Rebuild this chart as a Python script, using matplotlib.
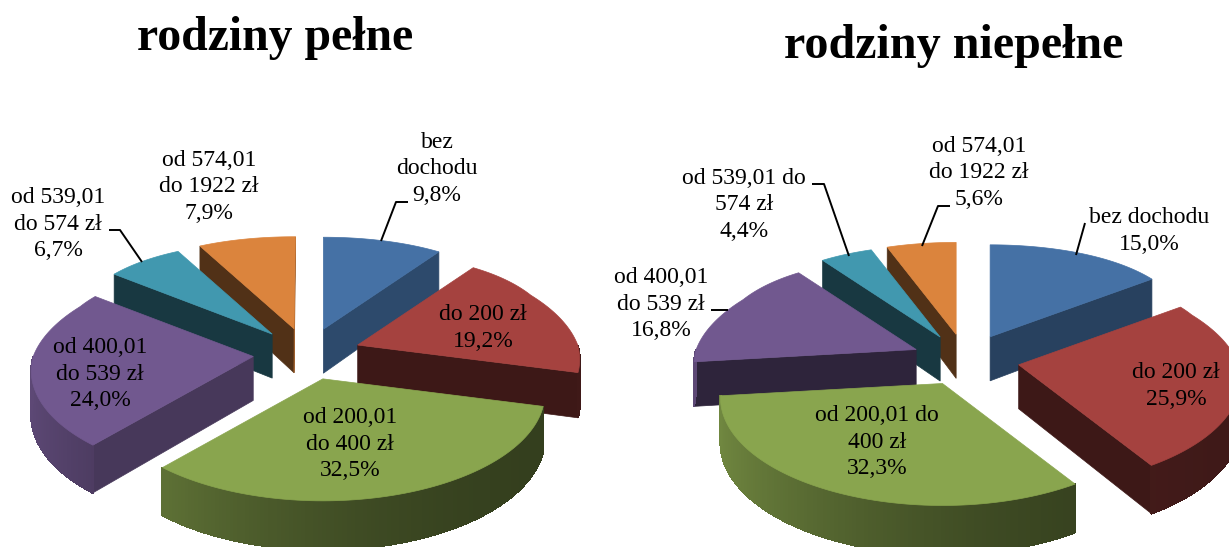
import numpy as np
import matplotlib
matplotlib.use('Agg')
import matplotlib.pyplot as plt
from matplotlib.patches import Polygon
from matplotlib.colors import to_rgb

plt.rcParams['font.family'] = ['Liberation Serif', 'DejaVu Serif']

# values (percent)
values_full = [9.8, 19.2, 32.5, 24.0, 6.7, 7.9]
values_single = [15.0, 25.9, 32.3, 16.8, 4.4, 5.6]

labels_full = ['bez\ndochodu\n9,8%', 'do 200 zł\n19,2%', 'od 200,01\ndo 400 zł\n32,5%',
               'od 400,01\ndo 539 zł\n24,0%', 'od 539,01\ndo 574 zł\n6,7%', 'od 574,01\ndo 1922 zł\n7,9%']
labels_single = ['bez dochodu\n15,0%', 'do 200 zł\n25,9%', 'od 200,01 do\n400 zł\n32,3%',
                 'od 400,01\ndo 539 zł\n16,8%', 'od 539,01 do\n574 zł\n4,4%', 'od 574,01\ndo 1922 zł\n5,6%']

colors = ['#4571A5', '#A5423F', '#89A54E', '#71588F', '#4198AF', '#DB843D']

# layout, in pixels of the final image
label_pos_full = [(437, 169), (483, 328), (350, 444), (100, 374), (58, 224), (209, 187)]
label_pos_single = [(1149, 231), (1176, 386), (877, 442), (661, 304), (744, 205), (979, 173)]
leaders_full = [[(408, 202), (396, 202), (381, 241)], [(109, 230), (120, 230), (142, 262)]]
leaders_single = [[(812, 184), (824, 184), (849, 256)], [(950, 206), (938, 206), (922, 246)],
                  [(1085, 223), (1076, 255)], [(728, 310), (711, 310)]]

draw_order = [5, 4, 0, 3, 1, 2]


def shade(color, f):
    return tuple(c * f for c in to_rgb(color))


def rim_point(apex, th, r=1.0):
    # back of the pie looks smaller than the front
    c = np.cos(th)
    rx = 220 - 20 * min(2 * c, 1) if c > 0 else 220 - 30 * c
    ry = 107 - 15 * c
    return apex[0] + r * rx * np.sin(th), apex[1] - r * ry * c


def depth(th):
    return 44 - 5 * np.cos(th)


def draw_pie(ax, values, cx, cy):
    edges = np.radians(np.cumsum([0] + values) * 3.6)
    for i in draw_order:
        th1, th2 = edges[i], edges[i + 1]
        mid = (th1 + th2) / 2
        apex = (cx + 54 * np.sin(mid), cy - 26 * np.cos(mid))
        col = colors[i]

        # cut faces
        for th, normal in [(th1, th1 - np.pi / 2), (th2, th2 + np.pi / 2)]:
            if np.cos(normal) < 0:
                x, y = rim_point(apex, th)
                f = 0.37 + 0.35 * max(np.sin(normal), 0)
                pts = [apex, (x, y), (x, y + depth(th)), (apex[0], apex[1] + 44)]
                ax.add_patch(Polygon(pts, fc=shade(col, f), ec=shade(col, f), lw=0.5))

        # outer rim, shaded in thin strips
        ths = np.linspace(th1, th2, int((th2 - th1) * 60) + 2)
        for a, b in zip(ths[:-1], ths[1:]):
            m = (a + b) / 2
            if np.cos(m) >= 0:
                continue
            t = (1 - np.sin(m)) / 2
            f = 0.38 + 0.44 * t ** 2
            xa, ya = rim_point(apex, a)
            xb, yb = rim_point(apex, b)
            pts = [(xa, ya), (xb, yb), (xb, yb + depth(b)), (xa, ya + depth(a))]
            ax.add_patch(Polygon(pts, fc=shade(col, f), ec=shade(col, f), lw=0.8, antialiased=False))

        # top
        top = [apex] + [rim_point(apex, th) for th in np.linspace(th1, th2, 80)]
        ax.add_patch(Polygon(top, fc=col, ec=col, lw=0.5))


def draw_labels(ax, labels, positions, leaders):
    for text, (x, y) in zip(labels, positions):
        ax.text(x, y, text, ha='center', va='center', ma='center', fontsize=17,
                linespacing=1.32, color='black')
    for line in leaders:
        xs, ys = zip(*line)
        ax.plot(xs, ys, color='black', lw=1.4, solid_capstyle='butt')


fig = plt.figure(figsize=(12.29, 5.47), dpi=100)
ax = fig.add_axes([0, 0, 1, 1])
ax.set_xlim(0, 1229)
ax.set_ylim(547, 0)
ax.axis('off')

draw_pie(ax, values_full, 307, 354)
draw_pie(ax, values_single, 965.6, 360)
draw_labels(ax, labels_full, label_pos_full, leaders_full)
draw_labels(ax, labels_single, label_pos_single, leaders_single)

ax.text(275, 50, 'rodziny pełne', ha='center', va='baseline', fontsize=34.4, fontweight='bold')
ax.text(954, 58, 'rodziny niepełne', ha='center', va='baseline', fontsize=34.6, fontweight='bold')

fig.savefig('out.png', dpi=100)
